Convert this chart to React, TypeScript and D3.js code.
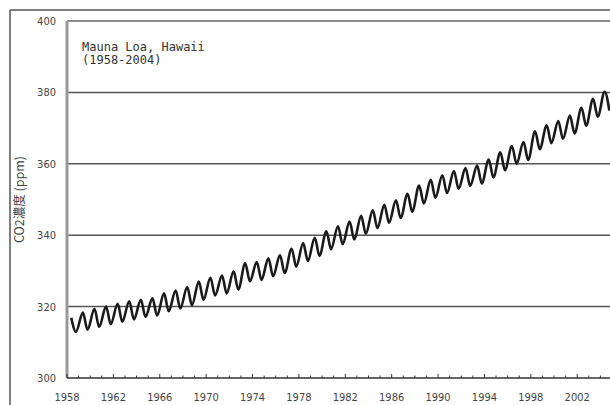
import React, { useEffect, useRef } from "react";
import * as d3 from "d3";

// yearly seasonal maximum (about May) and minimum (about October), ppm
const years = d3.range(1958, 2005);
const peaks = [
  316.9, 318.3, 319.4, 320.0, 320.8, 321.5, 321.9, 322.3, 323.7, 324.5,
  325.5, 327.0, 328.1, 328.7, 329.9, 332.1, 332.5, 333.5, 334.4, 336.2,
  337.8, 339.3, 341.1, 342.5, 343.8, 345.4, 347.0, 348.5, 349.8, 351.6,
  353.9, 355.5, 356.8, 358.0, 358.8, 359.5, 361.2, 363.2, 365.0, 366.1,
  369.1, 370.8, 372.0, 373.5, 375.7, 378.2, 380.2,
];
const troughs = [
  312.9, 313.5, 314.3, 315.1, 315.8, 316.4, 317.1, 317.5, 318.7, 319.5,
  320.4, 321.9, 323.1, 323.7, 324.8, 327.1, 327.5, 328.5, 329.4, 331.2,
  332.8, 334.2, 336.1, 337.5, 338.8, 340.4, 342.0, 343.5, 344.8, 346.6,
  348.9, 350.5, 351.8, 353.0, 353.8, 354.5, 356.2, 358.2, 360.0, 361.1,
  364.1, 365.8, 367.0, 368.5, 370.7, 373.2, 374.9,
];
const yTicks = [300, 320, 340, 360, 380, 400];
const xTicks = d3.range(1958, 2003, 4);

const App = () => {
  const ref = useRef<SVGSVGElement>(null);

  useEffect(() => {
    const svg = d3.select(ref.current);
    svg.selectAll("*").remove();

    const left = 67, top = 21, right = 612, bottom = 378;

    const x = d3.scaleLinear().domain([1958, 2005]).range([left, right]);
    const y = d3.scaleLinear().domain([300, 400]).range([bottom, top]);

    // outer frame
    svg.append("line").attr("x1", 10).attr("x2", 10).attr("y1", 10).attr("y2", 405)
      .attr("stroke", "#555").attr("stroke-width", 1.5);
    svg.append("line").attr("x1", 10).attr("x2", 610).attr("y1", 10).attr("y2", 10)
      .attr("stroke", "#555").attr("stroke-width", 1.5);

    // grid lines
    svg.selectAll(".grid")
      .data(yTicks.filter((d) => d > 300 && d < 400))
      .join("line")
      .attr("class", "grid")
      .attr("x1", left).attr("x2", 610)
      .attr("y1", (d) => y(d)).attr("y2", (d) => y(d))
      .attr("stroke", "#555").attr("stroke-width", 1.5);

    // plot frame
    svg.append("line").attr("x1", left).attr("x2", 610).attr("y1", top).attr("y2", top)
      .attr("stroke", "#666").attr("stroke-width", 1.5);
    svg.append("line").attr("x1", left).attr("x2", left).attr("y1", top).attr("y2", bottom)
      .attr("stroke", "#999").attr("stroke-width", 3);

    // data line
    const pts: [number, number][] = [];
    years.forEach((yr, i) => {
      pts.push([yr + 0.37, peaks[i]]);
      pts.push([yr + 0.77, troughs[i]]);
    });
    const line = d3.line<[number, number]>()
      .x((d) => x(d[0]))
      .y((d) => y(d[1]))
      .curve(d3.curveMonotoneX);
    svg.append("path")
      .datum(pts)
      .attr("d", line)
      .attr("fill", "none")
      .attr("stroke", "#1a1a1a")
      .attr("stroke-width", 2.6);

    // x axis line and ticks
    svg.append("line").attr("x1", left).attr("x2", 610).attr("y1", bottom).attr("y2", bottom)
      .attr("stroke", "#333").attr("stroke-width", 1.5);
    svg.selectAll(".minor")
      .data(d3.range(1958, 2005))
      .join("line")
      .attr("class", "minor")
      .attr("x1", (d) => x(d)).attr("x2", (d) => x(d))
      .attr("y1", bottom).attr("y2", (d) => bottom - ((d - 1958) % 4 === 0 ? 4 : 2.5))
      .attr("stroke", "#333").attr("stroke-width", 1);

    svg.selectAll(".xlab")
      .data(xTicks)
      .join("text")
      .attr("class", "xlab")
      .attr("x", (d) => x(d))
      .attr("y", 401)
      .attr("text-anchor", "middle")
      .style("font-family", "'Liberation Sans Narrow', 'DejaVu Sans Condensed', sans-serif")
      .style("font-size", "11px")
      .attr("fill", "#444")
      .text((d) => d);

    svg.selectAll(".ylab")
      .data(yTicks)
      .join("text")
      .attr("class", "ylab")
      .attr("x", 56)
      .attr("y", (d) => y(d) + 4)
      .attr("text-anchor", "end")
      .style("font-family", "'Liberation Sans Narrow', 'DejaVu Sans Condensed', sans-serif")
      .style("font-size", "11px")
      .attr("fill", "#444")
      .text((d) => d);

    // y axis title
    svg.append("text")
      .attr("transform", `translate(24,${(top + bottom) / 2}) rotate(-90)`)
      .attr("text-anchor", "middle")
      .style("font-family", "'Noto Sans CJK JP', sans-serif")
      .style("font-size", "12.5px")
      .attr("fill", "#444")
      .text("CO2濃度 (ppm)");

    // annotation
    const note = svg.append("text")
      .style("font-family", "'DejaVu Sans Mono', monospace")
      .style("font-size", "12px")
      .attr("fill", "#333");
    note.append("tspan").attr("x", 82).attr("y", 51).text("Mauna Loa, Hawaii");
    note.append("tspan").attr("x", 82).attr("y", 64).text("(1958-2004)");
  }, []);

  return <svg ref={ref} width={610} height={405} style={{ position: "absolute", left: 0, top: 0 }} />;
};

export default App;
